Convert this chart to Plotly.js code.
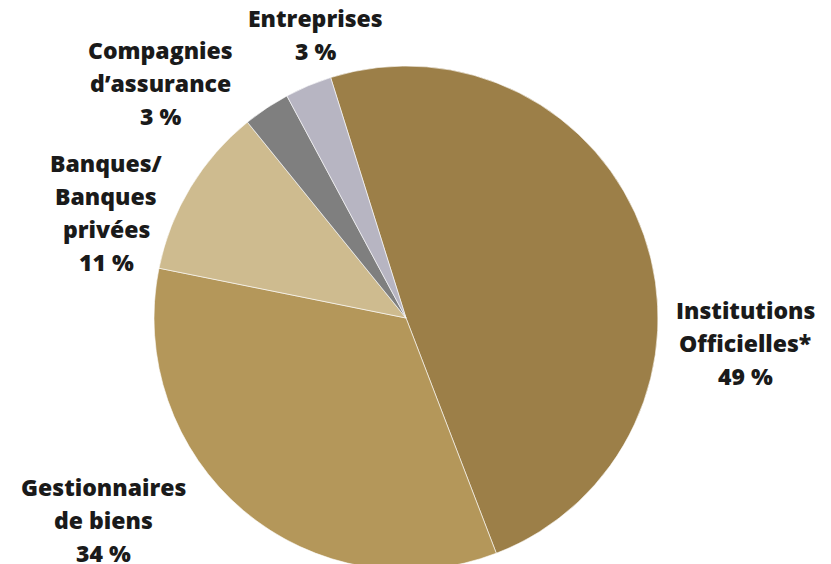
<!DOCTYPE html>
<html><head><meta charset="utf-8">
<script src="https://cdn.plot.ly/plotly-3.0.1.min.js"></script>
<style>html,body{margin:0;padding:0;background:#fff;overflow:hidden}#chart{width:831px;height:570px}</style>
</head><body><div id="chart"></div>
<script>
const categories = ["Institutions Officielles*", "Gestionnaires de biens", "Banques/Banques privées", "Compagnies d’assurance", "Entreprises"];
const values = [49, 34, 11, 3, 3];
const labelLines = [
  ["Institutions", "Officielles*"],
  ["Gestionnaires", "de biens"],
  ["Banques/", "Banques", "privées"],
  ["Compagnies", "d’assurance"],
  ["Entreprises"]
];
const colors = ["#9c7f48", "#b4975a", "#cebb8f", "#7f7f7f", "#b7b5c2"];
// label anchor (center x, first line y) in pixels
const labelPos = [[745, 310], [103, 487], [106, 163], [160, 50], [315, 18]];
const lineGap = 33;

const W = 831, H = 570, T = 66;
const PH = H - T;
const annotations = [];
categories.forEach((c, i) => {
  const lines = labelLines[i].concat([values[i] + " %"]);
  lines.forEach((t, k) => {
    annotations.push({
      text: t, showarrow: false, xref: "paper", yref: "paper",
      x: labelPos[i][0] / W, y: 1 - (labelPos[i][1] + k * lineGap - T) / PH,
      xanchor: "center", yanchor: "middle",
      font: {family: "'Open Sans', sans-serif", size: 23, color: "#1a1a1a", weight: 800}
    });
  });
});

Plotly.newPlot("chart", [{
  type: "pie", labels: categories, values: values, sort: false,
  direction: "clockwise", rotation: -17.4,
  marker: {colors: colors, line: {color: "#ffffff", width: 0.6}},
  textinfo: "none", hoverinfo: "label+percent",
  domain: {x: [154 / W, 658 / W], y: [0, 1]}
}], {
  width: W, height: H, showlegend: false,
  margin: {l: 0, r: 0, t: T, b: 0},
  paper_bgcolor: "#ffffff",
  annotations: annotations
}, {displayModeBar: false, staticPlot: true});
</script></body></html>
